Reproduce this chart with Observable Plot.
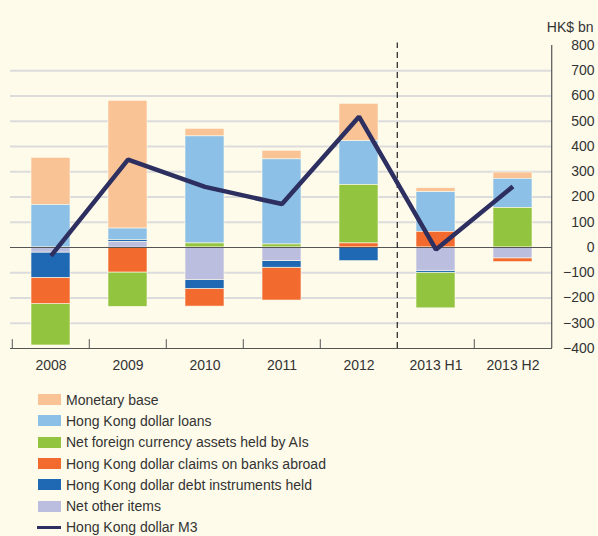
<!DOCTYPE html>
<html>
<head>
<meta charset="utf-8">
<script src="https://cdn.jsdelivr.net/npm/d3@7"></script>
<script src="https://cdn.jsdelivr.net/npm/@observablehq/plot@0.6"></script>
<style>
  html, body { margin: 0; padding: 0; background: #FEFBEA; }
  body { width: 598px; height: 536px; overflow: hidden; font-family: "Liberation Sans", Arial, sans-serif; }
  #legend { padding-top: 4px; }
  .row { display: flex; align-items: center; height: 21.3px; font-size: 14px; color: #333; }
  .sw { width: 23px; height: 11px; margin-left: 38px; margin-right: 5px; }
  .ln { width: 24px; height: 3px; margin-left: 37px; margin-right: 5px; }
</style>
</head>
<body>
<div id="chart"></div>
<div id="legend"></div>
<script>
const categories = ["2008", "2009", "2010", "2011", "2012", "2013 H1", "2013 H2"];
const seriesNames = [
  "Monetary base",
  "Hong Kong dollar loans",
  "Net foreign currency assets held by AIs",
  "Hong Kong dollar claims on banks abroad",
  "Hong Kong dollar debt instruments held",
  "Net other items"
];
const lineName = "Hong Kong dollar M3";
const unitLabel = "HK$ bn";
const seriesColors = ["#F9C396", "#8CC0E7", "#93C43F", "#F36A2F", "#1F69B4", "#BCBEDF"];
const lineColor = "#2C2F5F";

const monetaryBase = [187, 506, 30, 34, 148, 16, 25];
const hkdLoans     = [168, 46, 424, 337, 174, 157, 116];
const netForeign   = [-164, -136, 16, 12, 231, -141, 156];
const claimsAbroad = [-104, -99, -70, -130, 16, 62, -15];
const debtHeld     = [-100, 7, -36, -26, -54, -8, 0];
const netOther     = [-20, 22, -128, -54, 0, -92, -43];
const m3           = [-33, 348, 240, 172, 518, -8, 242];

const yTicks = [-400, -300, -200, -100, 0, 100, 200, 300, 400, 500, 600, 700, 800];
const gridValues = [-300, -200, -100, 100, 200, 300, 400, 500, 600, 700];

const seriesValues = [monetaryBase, hkdLoans, netForeign, claimsAbroad, debtHeld, netOther];
const rows = [];
seriesValues.forEach((vals, s) => {
  vals.forEach((v, i) => rows.push({cat: categories[i], series: seriesNames[s], value: v}));
});
const lineRows = m3.map((v, i) => ({cat: categories[i], value: v}));
// stacking order from zero outward
const stackOrder = [seriesNames[5], seriesNames[4], seriesNames[3], seriesNames[2], seriesNames[1], seriesNames[0]];

const halfStep = (598 - 10 - 46) / categories.length / 2;

const chart = Plot.plot({
  width: 598,
  height: 385,
  marginLeft: 10,
  marginRight: 46,
  marginTop: 45,
  marginBottom: 37,
  style: {background: "transparent", fontFamily: "Liberation Sans, Arial, sans-serif", fontSize: "14px", color: "#333"},
  x: {domain: categories, paddingInner: 0.5, paddingOuter: 0.25, label: null},
  y: {domain: [-400, 800], label: null},
  color: {domain: seriesNames, range: seriesColors},
  marks: [
    Plot.ruleY(gridValues, {stroke: "#DCDCDC", strokeWidth: 2}),
    Plot.barY(rows, Plot.stackY({order: stackOrder}, {x: "cat", y: "value", fill: "series", stroke: "#FEFBEA", strokeWidth: 0.6})),
    Plot.ruleY([0], {stroke: "#555", strokeWidth: 1}),
    Plot.ruleX(["2013 H1"], {dx: -halfStep, stroke: "#222", strokeWidth: 1.2, strokeDasharray: "6,4", y1: -400, y2: 810}),
    Plot.ruleX(categories.filter(c => c !== "2013 H1"), {dx: -halfStep, stroke: "#555", strokeWidth: 1, y1: -400, y2: -365}),
    Plot.ruleX(["2013 H2"], {dx: halfStep, stroke: "#555", strokeWidth: 1.2, y1: -400, y2: 800}),
    Plot.ruleY([-400], {stroke: "#555", strokeWidth: 1.2}),
    Plot.line(lineRows, {x: "cat", y: "value", stroke: lineColor, strokeWidth: 4.5, strokeLinejoin: "miter", strokeLinecap: "butt"}),
    Plot.axisX({tickSize: 0, tickPadding: 12, fontSize: 14, fill: "#333"}),
    Plot.axisY({anchor: "right", ticks: yTicks, tickSize: 0, tickPadding: 42, textAnchor: "end", fontSize: 14, fill: "#333", label: null}),
    Plot.text([unitLabel], {frameAnchor: "top-right", textAnchor: "end", lineAnchor: "bottom", dx: 41, dy: -14, fontSize: 14, fill: "#333"})
  ]
});
document.getElementById("chart").appendChild(chart);

const legend = document.getElementById("legend");
seriesNames.forEach((n, i) => {
  const r = document.createElement("div");
  r.className = "row";
  r.innerHTML = `<span class="sw" style="background:${seriesColors[i]}"></span><span>${n}</span>`;
  legend.appendChild(r);
});
const lr = document.createElement("div");
lr.className = "row";
lr.innerHTML = `<span class="ln" style="background:${lineColor}"></span><span>${lineName}</span>`;
legend.appendChild(lr);
</script>
</body>
</html>
